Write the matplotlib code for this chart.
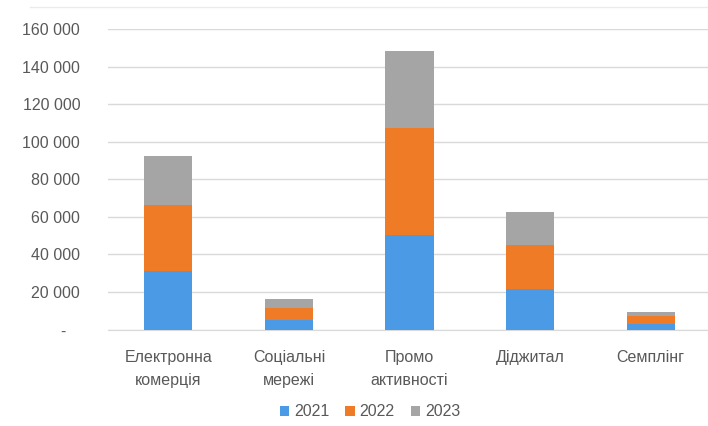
import matplotlib
matplotlib.use("Agg")
import matplotlib.pyplot as plt
import numpy as np

categories = ["Електронна\nкомерція", "Соціальні\nмережі", "Промо\nактивності", "Діджитал", "Семплінг"]
years = ["2021", "2022", "2023"]
v2021 = [31100, 5300, 50200, 21300, 2800]
v2022 = [35300, 6400, 56900, 23600, 4300]
v2023 = [25900, 4600, 41300, 17800, 2100]
colors = ["#4A9AE6", "#F07B26", "#A5A5A5"]
yticks = [0, 20000, 40000, 60000, 80000, 100000, 120000, 140000, 160000]

plt.rcParams["font.family"] = ["Liberation Sans", "DejaVu Sans"]

fig = plt.figure(figsize=(7.08, 4.26), dpi=100)
ax = fig.add_axes([108 / 708, 1 - 329.5 / 426, 603 / 708, 300.5 / 426])

x = np.arange(len(categories))
bottom = np.zeros(len(categories))
for vals, c, lab in zip([v2021, v2022, v2023], colors, years):
    ax.bar(x, vals, width=0.4, bottom=bottom, color=c, label=lab, zorder=3)
    bottom += np.array(vals)

ax.set_xlim(-0.5, len(categories) - 0.5)
ax.set_ylim(0, 160000)
ax.set_yticks(yticks)
ax.set_yticklabels(["-   " if t == 0 else f"{t:,}".replace(",", " ") for t in yticks])
ax.set_xticks(x)
ax.set_xticklabels(categories, linespacing=1.6)
ax.tick_params(axis="both", length=0, labelsize=11.5, labelcolor="#595959")
ax.tick_params(axis="y", pad=20)
ax.tick_params(axis="x", pad=15)
ax.grid(axis="y", color="#D9D9D9", linewidth=1, zorder=0)
for s in ["top", "right", "left"]:
    ax.spines[s].set_visible(False)
ax.spines["bottom"].set_color("#D9D9D9")

# light chart frame line at top
fig.add_artist(plt.Line2D([30 / 708, 1], [1 - 7 / 426] * 2, color="#EBEBEB", linewidth=1))

fig.legend(loc="center", bbox_to_anchor=(370 / 708, 1 - 412 / 426), ncol=3, frameon=False,
           fontsize=11.5, handlelength=0.6, handleheight=0.6, handletextpad=0.3, columnspacing=1.0,
           labelcolor="#595959")

fig.savefig("out.png", dpi=100)
